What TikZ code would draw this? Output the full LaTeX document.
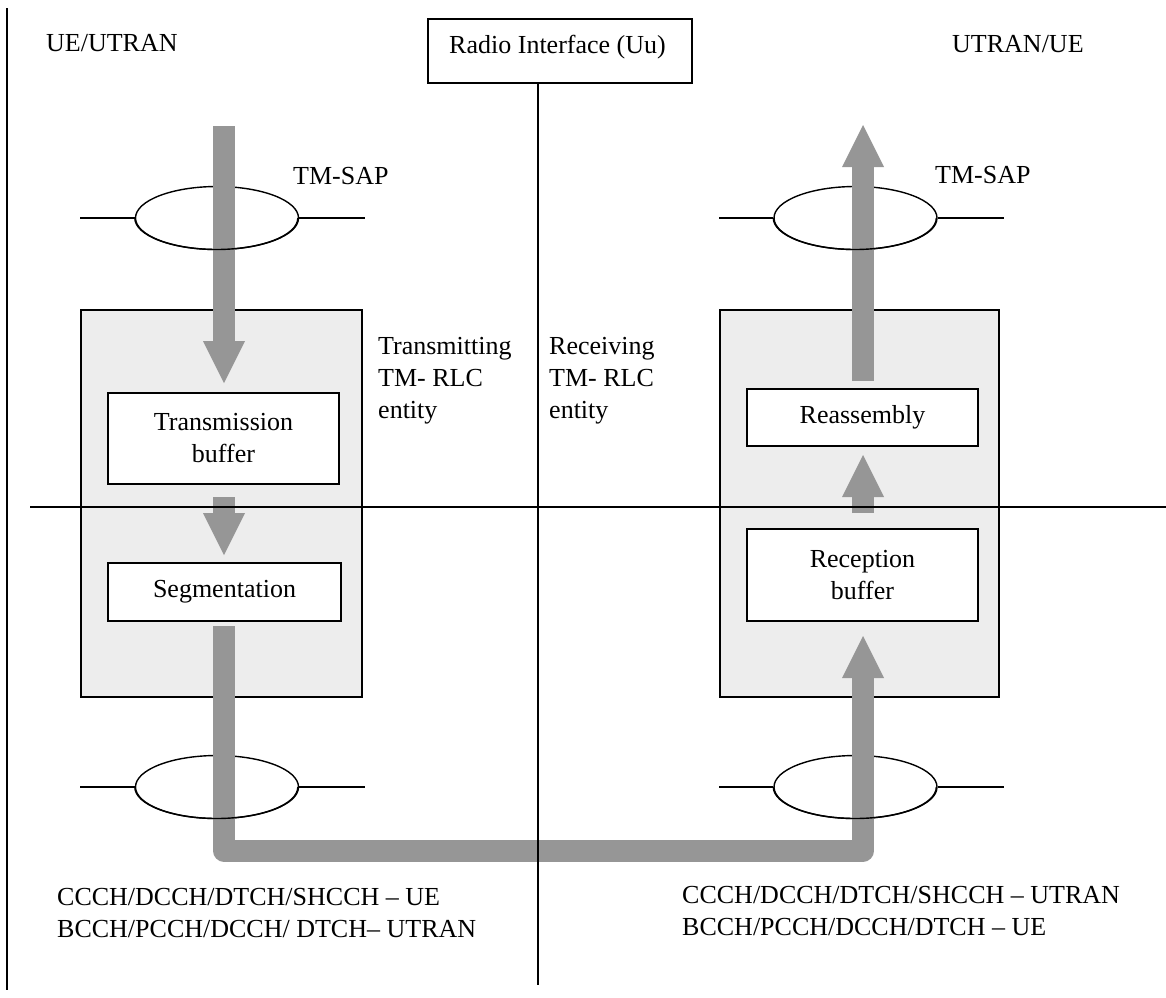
\documentclass[tikz,border=0pt]{standalone}
\usepackage{fontspec}
\setmainfont{Liberation Serif}
\usetikzlibrary{calc,shapes.geometric}
\definecolor{pipegray}{RGB}{150,150,150}
\definecolor{entityfill}{RGB}{237,237,237}

\begin{document}
\begin{tikzpicture}[x=1pt,y=-1pt,
  txt/.style={font=\fontsize{26}{32}\selectfont, inner sep=0pt},
  lbl/.style={txt, anchor=base west, align=left},
  entity/.style={draw=black, line width=1.6pt, fill=entityfill, inner sep=0pt},
  stage/.style={draw=black, line width=1.6pt, fill=white, txt, align=center},
  shaft/.style={draw=pipegray, line width=22pt},
  sap/.style={draw=black, line width=1.4pt},
  divider/.style={draw=black, line width=1.6pt},
  headdown/.pic={\fill[pipegray] (-21,0) -- (21,0) -- (0,42) -- cycle;},
  headup/.pic={\fill[pipegray] (-21,0) -- (21,0) -- (0,-42) -- cycle;},
]
\useasboundingbox (0,0) rectangle (1166,997);

% RLC entities (shaded frames)
\node[entity, minimum width=281pt, minimum height=387pt] (txent) at (221.5,503.5) {};
\node[entity, minimum width=279pt, minimum height=387pt] (rxent) at (859.5,503.5) {};

% functional blocks
\node[stage, minimum width=231pt, minimum height=91pt] (trbuf) at (223.5,438.5) {Transmission\\buffer};
\node[stage, minimum width=233pt, minimum height=58pt] (seg) at (224.5,592) {Segmentation};
\node[stage, minimum width=231pt, minimum height=57pt] (reas) at (862.5,417.5) {Reassembly};
\node[stage, minimum width=231pt, minimum height=92pt] (recbuf) at (862.5,575) {Reception\\buffer};

% radio interface box
\node[draw=black, line width=1.6pt, fill=white, minimum width=264pt, minimum height=64pt] (radio) at (560,51) {};
\node[txt, anchor=base] (radiotxt) at (557.5,53) {Radio Interface (Uu)};

% service access points
\node[sap, ellipse, minimum width=163pt, minimum height=63pt, inner sep=0pt] (sapTL) at (217,218) {};
\node[sap, ellipse, minimum width=163pt, minimum height=63pt, inner sep=0pt] (sapBL) at (217,787) {};
\node[sap, ellipse, minimum width=163pt, minimum height=63pt, inner sep=0pt] (sapTR) at (855.5,218) {};
\node[sap, ellipse, minimum width=163pt, minimum height=63pt, inner sep=0pt] (sapBR) at (855.5,787) {};
\foreach \s/\l/\r in {sapTL/55/66, sapBL/55/66, sapTR/54/66, sapBR/54/66}{
  \draw[sap] (\s.west) -- ++(-\l,0);
  \draw[sap] (\s.east) -- ++(\r,0);
}

% data flow: transmitting side
\coordinate (inL) at (224,126);
\coordinate (hL1) at (224,341);
\draw[shaft] (inL) -- (hL1);
\pic at (hL1) {headdown};
\coordinate (sL2) at (224,497);
\coordinate (hL2) at (224,513);
\draw[shaft] (sL2) -- (hL2);
\pic at (hL2) {headdown};

% data flow: transport channel across the interface
\coordinate (segout) at (224,626);
\coordinate (pipeL) at (224,850.5);
\coordinate (pipeR) at (863,850.5);
\coordinate (hR0) at (863,678);
\draw[shaft, line join=round] (segout) -- (pipeL) -- (pipeR) -- (hR0);
\pic at (hR0) {headup};

% data flow: receiving side
\coordinate (sR1) at (863,513);
\coordinate (hR1) at (863,497);
\draw[shaft] (sR1) -- (hR1);
\pic at (hR1) {headup};
\coordinate (sR2) at (863,381);
\coordinate (hR2) at (863,167);
\draw[shaft] (sR2) -- (hR2);
\pic at (hR2) {headup};

% lower halves of the SAP ellipses over the flow
\foreach \s in {sapTL, sapBL, sapTR, sapBR}{
  \draw[sap] (\s.west) arc[start angle=180, end angle=0, x radius=81.5, y radius=31.5];
}

% dividing lines
\coordinate (ltop) at (7,8);
\coordinate (lbot) at (7,990);
\draw[divider] (ltop) -- (lbot);
\coordinate (uubot) at (538,985);
\draw[divider] (radio.south -| uubot) -- (uubot);
\coordinate (hlL) at (30,507);
\coordinate (hlR) at (1166,507);
\draw[divider] (hlL) -- (hlR);

% labels (multi-line labels are anchored at the baseline of their last line)
\node[lbl] (ueutran) at (46,51) {UE/UTRAN};
\node[lbl] (utranue) at (952,52) {UTRAN/UE};
\node[lbl] (tmsapL) at (293,184) {TM-SAP};
\node[lbl] (tmsapR) at (935,183) {TM-SAP};
\node[lbl] (txlbl) at (378,418) {Transmitting\\TM- RLC\\entity};
\node[lbl] (rxlbl) at (549,418) {Receiving\\TM- RLC\\entity};
\node[lbl] (chL) at (57,937) {CCCH/DCCH/DTCH/SHCCH – UE\\BCCH/PCCH/DCCH/ DTCH– UTRAN};
\node[lbl] (chR) at (682,935) {CCCH/DCCH/DTCH/SHCCH – UTRAN\\BCCH/PCCH/DCCH/DTCH – UE};
\end{tikzpicture}
\end{document}
